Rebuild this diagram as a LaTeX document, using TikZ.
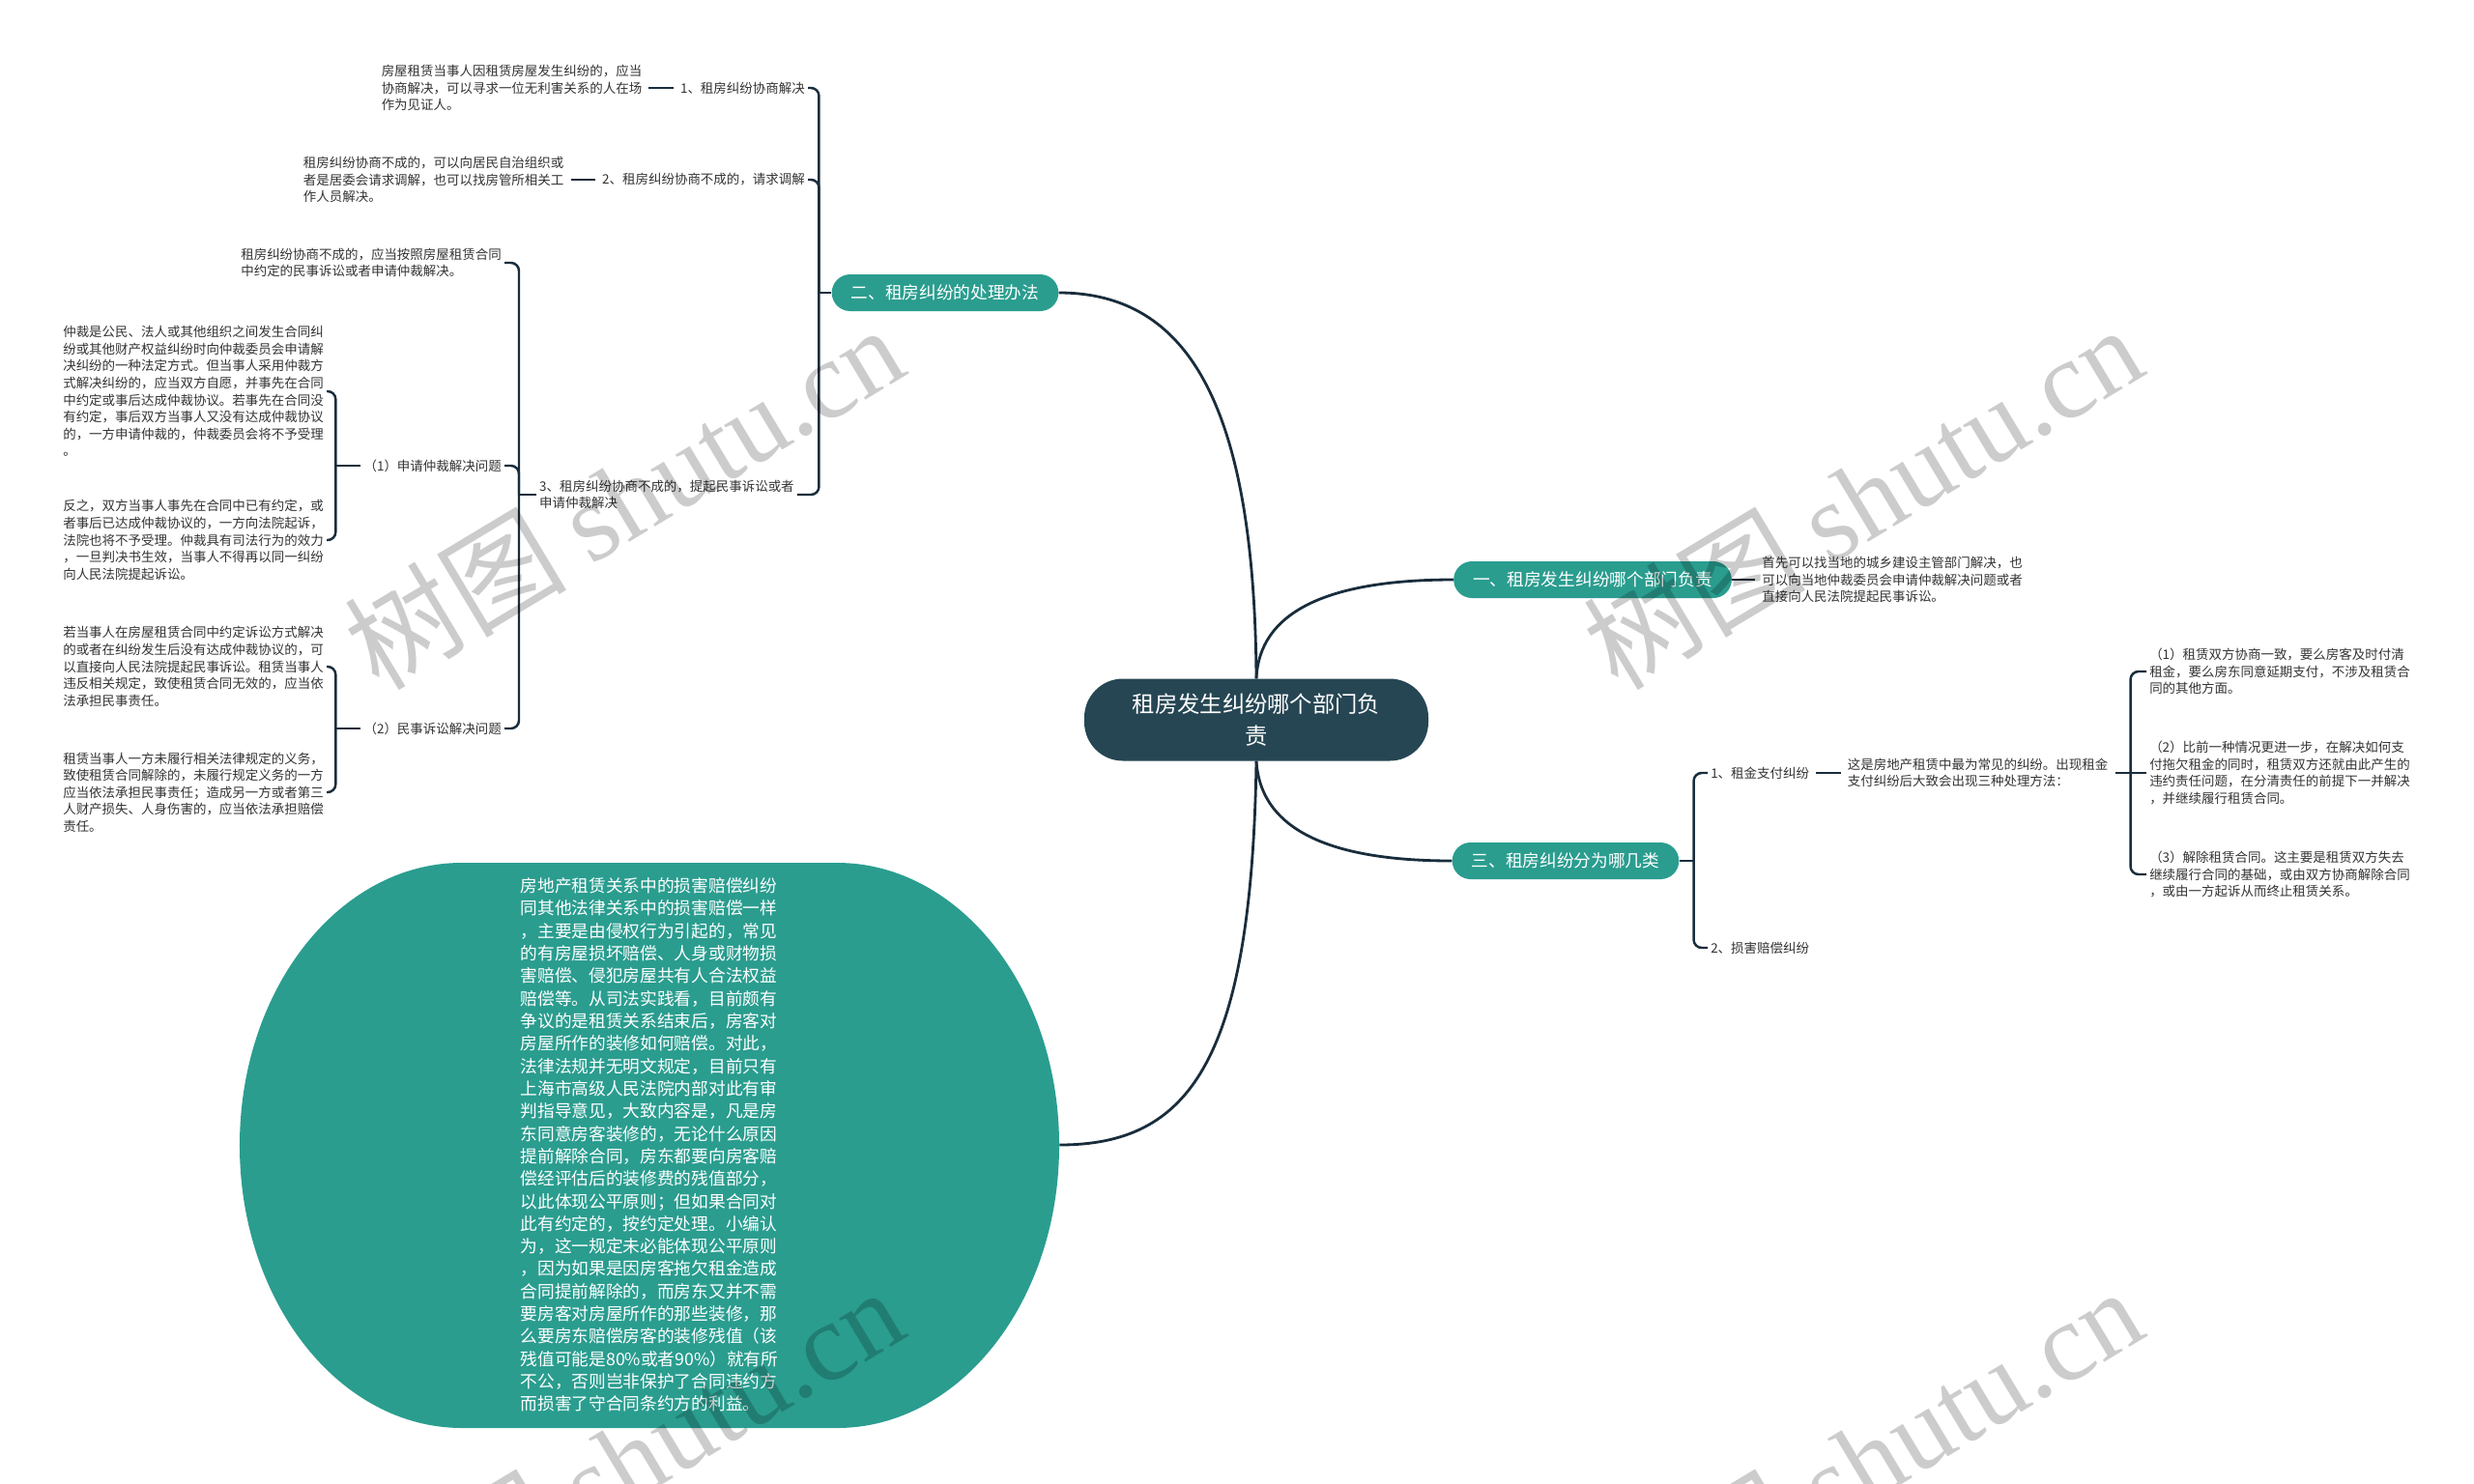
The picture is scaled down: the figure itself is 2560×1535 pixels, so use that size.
\documentclass[tikz,border=0pt]{standalone}
\usepackage{fontspec}
\setmainfont{Noto Sans CJK SC}
\newfontfamily\marklatin{Liberation Serif}
\usetikzlibrary{positioning}
\definecolor{rootfill}{RGB}{38,70,83}
\definecolor{branchfill}{RGB}{42,157,143}
\definecolor{linkcol}{RGB}{25,45,60}
\definecolor{leaftext}{RGB}{51,51,51}

\begin{document}
\begin{tikzpicture}[
    x=0.03cm, y=-0.03cm,
    rootbox/.style={rectangle, rounded corners=1.2cm, fill=rootfill, text=white, minimum width=10.68cm, minimum height=2.55cm, align=center, font=\fontsize{19.9}{28}\selectfont},
    branchbox/.style={rectangle, rounded corners=0.57cm, fill=branchfill, text=white, minimum height=1.14cm, inner xsep=0.6cm, font=\fontsize{15.1}{18}\selectfont},
    leafbox/.style={inner xsep=0.09cm, inner ysep=0.05cm, align=left, text=leaftext, font=\fontsize{11.5}{15}\selectfont},
    link/.style={draw=linkcol, line width=2.1pt},
    trunk/.style={draw=linkcol, line width=2.4pt},
    stub/.style={link, shorten <=0.12cm, shorten >=0.12cm},
    hook/.style={link, rounded corners=0.25cm},
    watermark/.style={text=black, text opacity=0.2, rotate=31, font=\fontsize{98}{98}\selectfont}
]

\fill[white] (0,0) rectangle (2560,1535);
\useasboundingbox (0,0) rectangle (2560,1535);

\node[rootbox] (root) at (1300,745) {租房发生纠纷哪个部门负\\责};

\node[branchbox] (bone) at (1648,600) {一、租房发生纠纷哪个部门负责};
\node[branchbox] (btwo) at (978,303) {二、租房纠纷的处理办法};
\node[branchbox] (bthree) at (1620,891) {三、租房纠纷分为哪几类};

\fill[branchfill] (478,893) -- (866,893)
    arc[start angle=90, end angle=0, x radius=6.9cm, y radius=8.775cm]
    arc[start angle=0, end angle=-90, x radius=6.9cm, y radius=8.775cm]
    -- (478,1478)
    arc[start angle=270, end angle=180, x radius=6.9cm, y radius=8.775cm]
    arc[start angle=180, end angle=90, x radius=6.9cm, y radius=8.775cm] -- cycle;
\node[align=left, text=white, minimum width=25.44cm, minimum height=17.55cm, font=\fontsize{15.1}{19.9}\selectfont] (loss) at (672,1185) {房地产租赁关系中的损害赔偿纠纷\\同其他法律关系中的损害赔偿一样\\，主要是由侵权行为引起的，常见\\的有房屋损坏赔偿、人身或财物损\\害赔偿、侵犯房屋共有人合法权益\\赔偿等。从司法实践看，目前颇有\\争议的是租赁关系结束后，房客对\\房屋所作的装修如何赔偿。对此，\\法律法规并无明文规定，目前只有\\上海市高级人民法院内部对此有审\\判指导意见，大致内容是，凡是房\\东同意房客装修的，无论什么原因\\提前解除合同，房东都要向房客赔\\偿经评估后的装修费的残值部分，\\以此体现公平原则；但如果合同对\\此有约定的，按约定处理。小编认\\为，这一规定未必能体现公平原则\\，因为如果是因房客拖欠租金造成\\合同提前解除的，而房东又并不需\\要房客对房屋所作的那些装修，那\\么要房东赔偿房客的装修残值（该\\残值可能是80\%或者90\%）就有所\\不公，否则岂非保护了合同违约方\\而损害了守合同条约方的利益。};

\draw[trunk] (root.north) .. controls (1298,420) and (1230,303) .. (btwo.east);
\draw[trunk] (root.north) .. controls (1303,635) and (1370,600) .. (bone.west);
\draw[trunk] (root.south) .. controls (1305,870) and (1400,891) .. (bthree.west);
\draw[trunk] (root.south) .. controls (1295,1100) and (1230,1185) .. (loss.east);

\node[leafbox, right=0.84cm of bone] (rone) {首先可以找当地的城乡建设主管部门解决，也\\可以向当地仲裁委员会申请仲裁解决问题或者\\直接向人民法院提起民事诉讼。};
\draw[link, shorten >=0.12cm] (bone) -- (rone);

\coordinate (jtwo) at ([xshift=-0.39cm]btwo.west);
\node[leafbox, anchor=east] (ctwoone) at (836,91) {1、租房纠纷协商解决};
\node[leafbox, left=1cm of ctwoone] (ltwoone) {房屋租赁当事人因租赁房屋发生纠纷的，应当\\协商解决，可以寻求一位无利害关系的人在场\\作为见证人。};
\node[leafbox, anchor=east] (ctwotwo) at (836,186) {2、租房纠纷协商不成的，请求调解};
\node[leafbox, left=1cm of ctwotwo] (ltwotwo) {租房纠纷协商不成的，可以向居民自治组织或\\者是居委会请求调解，也可以找房管所相关工\\作人员解决。};
\node[leafbox, anchor=west] (ctwothree) at (555,512) {3、租房纠纷协商不成的，提起民事诉讼或者\\申请仲裁解决};
\draw[link] (btwo) -- (jtwo);
\draw[hook] (jtwo) |- (ctwoone.east);
\draw[hook] (jtwo) |- (ctwotwo.east);
\draw[hook] (jtwo) |- (ctwothree.east);
\draw[stub] (ctwoone) -- (ltwoone);
\draw[stub] (ctwotwo) -- (ltwotwo);

\coordinate (jthree) at ([xshift=-0.54cm]ctwothree.west);
\node[leafbox, anchor=east] (lzero) at (522,272) {租房纠纷协商不成的，应当按照房屋租赁合同\\中约定的民事诉讼或者申请仲裁解决。};
\node[leafbox, anchor=east] (sone) at (522,482) {（1）申请仲裁解决问题};
\node[leafbox, anchor=east] (stwo) at (522,754) {（2）民事诉讼解决问题};
\draw[link] (ctwothree) -- (jthree);
\draw[hook] (jthree) |- (lzero.east);
\draw[hook] (jthree) |- (sone.east);
\draw[hook] (jthree) |- (stwo.east);

\coordinate (jsone) at ([xshift=-0.78cm]sone.west);
\node[leafbox, anchor=east] (arbone) at (338,405) {仲裁是公民、法人或其他组织之间发生合同纠\\纷或其他财产权益纠纷时向仲裁委员会申请解\\决纠纷的一种法定方式。但当事人采用仲裁方\\式解决纠纷的，应当双方自愿，并事先在合同\\中约定或事后达成仲裁协议。若事先在合同没\\有约定，事后双方当事人又没有达成仲裁协议\\的，一方申请仲裁的，仲裁委员会将不予受理\\。};
\node[leafbox, anchor=east] (arbtwo) at (338,559) {反之，双方当事人事先在合同中已有约定，或\\者事后已达成仲裁协议的，一方向法院起诉，\\法院也将不予受理。仲裁具有司法行为的效力\\，一旦判决书生效，当事人不得再以同一纠纷\\向人民法院提起诉讼。};
\draw[link] (sone) -- (jsone);
\draw[hook] (jsone) |- (arbone.east);
\draw[hook] (jsone) |- (arbtwo.east);

\coordinate (jstwo) at ([xshift=-0.78cm]stwo.west);
\node[leafbox, anchor=east] (suitone) at (338,690) {若当事人在房屋租赁合同中约定诉讼方式解决\\的或者在纠纷发生后没有达成仲裁协议的，可\\以直接向人民法院提起民事诉讼。租赁当事人\\违反相关规定，致使租赁合同无效的，应当依\\法承担民事责任。};
\node[leafbox, anchor=east] (suittwo) at (338,820) {租赁当事人一方未履行相关法律规定的义务，\\致使租赁合同解除的，未履行规定义务的一方\\应当依法承担民事责任；造成另一方或者第三\\人财产损失、人身伤害的，应当依法承担赔偿\\责任。};
\draw[link] (stwo) -- (jstwo);
\draw[hook] (jstwo) |- (suitone.east);
\draw[hook] (jstwo) |- (suittwo.east);

\coordinate (jbthree) at ([xshift=0.45cm]bthree.east);
\node[leafbox, anchor=west] (kindone) at (1767,800) {1、租金支付纠纷};
\node[leafbox, anchor=west] (kindtwo) at (1767,981) {2、损害赔偿纠纷};
\node[leafbox, right=1cm of kindone] (rentnote) {这是房地产租赁中最为常见的纠纷。出现租金\\支付纠纷后大致会出现三种处理方法：};
\coordinate (jrent) at ([xshift=0.6cm]rentnote.east);
\node[leafbox, anchor=west] (wayone) at (2221,695) {（1）租赁双方协商一致，要么房客及时付清\\租金，要么房东同意延期支付，不涉及租赁合\\同的其他方面。};
\node[leafbox, anchor=west] (waytwo) at (2221,800) {（2）比前一种情况更进一步，在解决如何支\\付拖欠租金的同时，租赁双方还就由此产生的\\违约责任问题，在分清责任的前提下一并解决\\，并继续履行租赁合同。};
\node[leafbox, anchor=west] (waythree) at (2221,905) {（3）解除租赁合同。这主要是租赁双方失去\\继续履行合同的基础，或由双方协商解除合同\\，或由一方起诉从而终止租赁关系。};
\draw[link] (bthree) -- (jbthree);
\draw[hook] (jbthree) |- (kindone.west);
\draw[hook] (jbthree) |- (kindtwo.west);
\draw[stub] (kindone) -- (rentnote);
\draw[link, shorten <=0.12cm] (rentnote) -- (jrent);
\draw[hook] (jrent) |- (wayone.west);
\draw[link] (jrent) -- (waytwo.west);
\draw[hook] (jrent) |- (waythree.west);

\node[watermark] (markone) at (645,514) {树图 {\marklatin shutu.cn}};
\node[watermark] (marktwo) at (1927,514) {树图 {\marklatin shutu.cn}};
\node[watermark] (markthree) at (645,1510) {树图 {\marklatin shutu.cn}};
\node[watermark] (markfour) at (1927,1510) {树图 {\marklatin shutu.cn}};

\end{tikzpicture}
\end{document}
